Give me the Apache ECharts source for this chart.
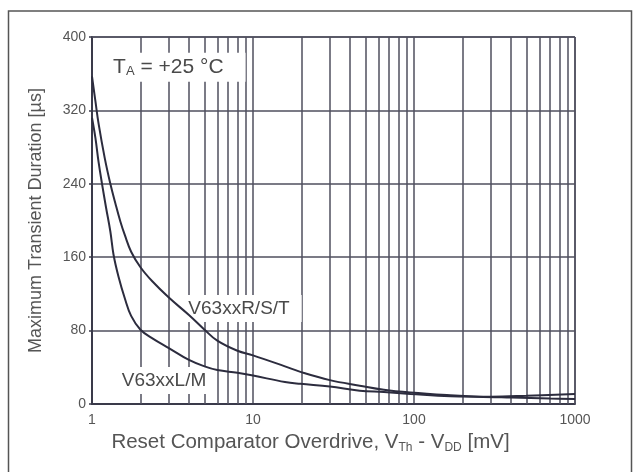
<!DOCTYPE html>
<html><head><meta charset="utf-8">
<script src="https://cdn.jsdelivr.net/npm/echarts@6/dist/echarts.min.js"></script>
<style>html,body{margin:0;padding:0;background:#fff}#c{width:640px;height:472px}</style>
</head><body><div id="c"></div>
<script>
// Axis ticks
const xTicks = [1, 10, 100, 1000];
const yTicks = [0, 80, 160, 240, 320, 400];
// V63xxR/S/T curve (x in mV, y in µs)
const rstX = [1, 1.05, 1.1, 1.2, 1.3, 1.4, 1.5, 1.6, 1.75, 2.0, 2.36, 3.0, 4.0, 5.0, 6.0, 8.0, 10, 15.8, 19.7, 30, 46, 65, 95, 168, 250, 400, 700, 1000];
const rstY = [357, 330, 305, 268, 240, 218, 199, 184, 166, 149, 134, 116, 97, 81, 69, 58, 53, 41, 35, 26, 20, 15.5, 12.5, 9.5, 8, 7, 6, 5.5];
// V63xxL/M curve
const lmX = [1, 1.05, 1.1, 1.154, 1.22, 1.3, 1.36, 1.46, 1.6, 1.75, 2.0, 2.4, 3.0, 4.0, 5.0, 6.0, 8.0, 10, 15.8, 19.7, 30, 46, 65, 95, 168, 300, 500, 1000];
const lmY = [312, 290, 263, 240, 215, 188, 163, 139, 115, 96, 81, 71, 61, 48, 41, 37, 34, 31, 24, 22, 19, 14.5, 13, 11, 8.5, 8, 9, 11];
// Annotations placed in data coordinates
const notes = [
  {name: 'ta', x: 3.11, y: 367},
  {name: 'rst', x: 8.73, y: 104},
  {name: 'lm', x: 2.80, y: 25.6}
];

const minorX = [];
[1, 10, 100].forEach(d => { for (let m = 2; m <= 9; m++) minorX.push(d * m); });

const gridColor = '#4f4f5e';
const textColor = '#555';
const curveColor = '#2c2c3e';
const ff = 'Liberation Sans, Arial';

const chart = echarts.init(document.getElementById('c'), null, {renderer: 'canvas'});
const noteLabels = {
  ta: {fmt: '{a|T}{s|A}{a| = +25 °C}', padding: [4, 22, 4, 16]},
  rst: {fmt: '{a|V63xxR/S/T}', padding: [3, 12, 3, 3]},
  lm: {fmt: '{a|V63xxL/M}', padding: [3, 4, 3, 4]}
};
const noteSize = {ta: 21, rst: 19, lm: 19};
const option = {
  animation: false,
  backgroundColor: '#fff',
  grid: {left: 92, right: 65, top: 37, bottom: 68},
  graphic: [{
    type: 'rect', shape: {x: 8.5, y: 11, width: 623, height: 470},
    style: {fill: 'none', stroke: '#555', lineWidth: 1.5}, silent: true
  }],
  xAxis: {
    type: 'log', logBase: 10, min: xTicks[0], max: xTicks[xTicks.length - 1],
    axisLine: {show: true, lineStyle: {color: '#3a3a4a', width: 2}},
    axisTick: {show: false},
    axisLabel: {color: textColor, fontSize: 14, fontFamily: ff, margin: 9, formatter: v => String(v)},
    splitLine: {show: true, lineStyle: {color: gridColor, width: 1.5}},
    name: '{a|Reset Comparator Overdrive, V}{s|Th}{a| - V}{s|DD}{a| [mV]}',
    nameLocation: 'middle', nameGap: 27,
    nameTextStyle: {
      color: textColor, fontFamily: ff, padding: [0, 46, 0, 0],
      rich: {
        a: {fontSize: 20.5, color: textColor, fontFamily: ff, lineHeight: 23},
        s: {fontSize: 12, color: textColor, fontFamily: ff, lineHeight: 15, verticalAlign: 'bottom'}
      }
    }
  },
  yAxis: {
    type: 'value', min: yTicks[0], max: yTicks[yTicks.length - 1], interval: yTicks[1] - yTicks[0],
    axisLine: {show: true, lineStyle: {color: '#3a3a4a', width: 2}},
    axisTick: {show: true, length: 3, lineStyle: {color: '#3a3a4a', width: 1.5}},
    axisLabel: {color: textColor, fontSize: 14, fontFamily: ff, margin: 6},
    splitLine: {show: true, lineStyle: {color: gridColor, width: 1.5}},
    name: 'Maximum Transient Duration [µs]',
    nameLocation: 'middle', nameGap: 47,
    nameTextStyle: {color: textColor, fontSize: 18, fontFamily: ff}
  },
  series: [
    {
      type: 'line', z: 1, silent: true, data: [], symbol: 'none',
      markLine: {
        silent: true, symbol: ['none', 'none'], label: {show: false},
        lineStyle: {color: gridColor, width: 1.5, type: 'solid'},
        animation: false,
        data: minorX.map(v => ({xAxis: v})).concat([{xAxis: xTicks[xTicks.length - 1]}, {yAxis: yTicks[yTicks.length - 1]}])
      }
    },
    {
      type: 'scatter', z: 3, silent: true, symbolSize: 0, data: [],
      markPoint: {
        silent: true, symbol: 'rect', symbolSize: 1,
        itemStyle: {color: 'rgba(0,0,0,0)'},
        data: notes.map(n => ({
          coord: [n.x, n.y],
          label: {
            show: true, position: 'inside', formatter: noteLabels[n.name].fmt,
            backgroundColor: '#fff', padding: noteLabels[n.name].padding,
            rich: {
              a: {fontSize: noteSize[n.name], color: '#4a4a4a', fontFamily: ff, lineHeight: 21},
              s: {fontSize: 13, color: '#4a4a4a', fontFamily: ff, lineHeight: 13, verticalAlign: 'bottom'}
            }
          }
        }))
      }
    },
    {
      name: 'V63xxR/S/T', type: 'line', z: 5, symbol: 'none', smooth: 0.4,
      lineStyle: {color: curveColor, width: 2},
      data: rstX.map((x, i) => [x, rstY[i]])
    },
    {
      name: 'V63xxL/M', type: 'line', z: 5, symbol: 'none', smooth: 0.4,
      lineStyle: {color: curveColor, width: 2},
      data: lmX.map((x, i) => [x, lmY[i]])
    }
  ]
};
chart.setOption(option);
</script>
</body></html>
